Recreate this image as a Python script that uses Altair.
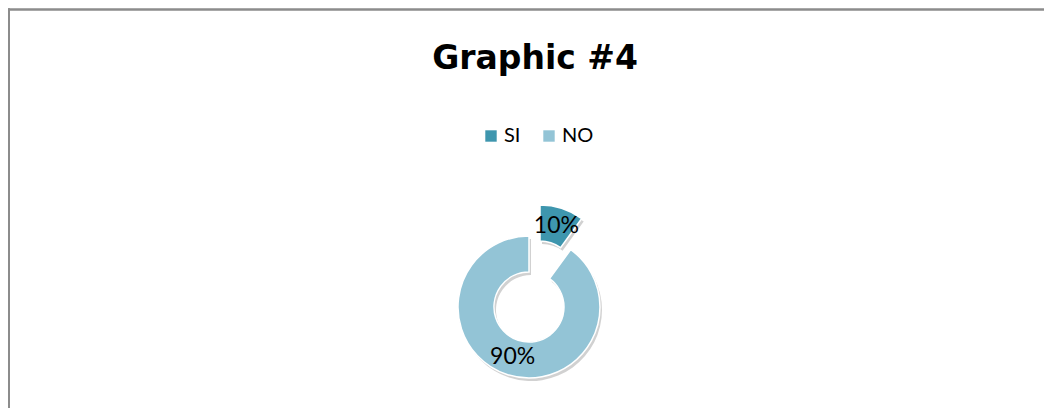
import altair as alt
import pandas as pd
import math

categories = ["SI", "NO"]
values = [10, 90]
order = [0, 1]
colors = ["#3E96AE", "#93C4D6"]

df = pd.DataFrame({"cat": categories, "value": values, "order": order})

FONT = "Lato"
TWO_PI = 2 * math.pi

base = alt.Chart(df).transform_window(
    cum="sum(value)", sort=[alt.SortField("order")], frame=[None, 0]
).transform_calculate(
    start="datum.cum - datum.value",
    end="datum.cum",
    mid="datum.cum - datum.value / 2",
    label="format(datum.value / 100, '.0%')",
)

theta_scale = alt.Scale(domain=[0, 100], range=[0, TWO_PI])
color_enc = alt.Color(
    "cat:N",
    scale=alt.Scale(domain=categories, range=colors),
    sort=categories,
    legend=alt.Legend(
        orient="none", legendX=473, legendY=118, direction="horizontal",
        title=None, symbolType="square", symbolSize=130, symbolStrokeWidth=0,
        labelFontSize=20, labelFont=FONT, labelColor="#000000",
        columnPadding=18, labelOffset=3, padding=0,
    ),
)

# center positions (plot coords)
NO_C = (521, 299)
SI_C = (532, 268)

def arcs(cat, center, shadow=False):
    b = base.transform_filter(alt.datum.cat == cat)
    if shadow:
        return b.mark_arc(innerRadius=35, outerRadius=71, color="#000000", opacity=0.18).encode(
            theta=alt.Theta("start:Q", scale=theta_scale), theta2="end:Q",
            x=alt.value(center[0] + 2), y=alt.value(center[1] + 3),
        )
    return b.mark_arc(innerRadius=35, outerRadius=71, stroke="#ffffff", strokeWidth=1.5).encode(
        theta=alt.Theta("start:Q", scale=theta_scale), theta2="end:Q",
        color=color_enc,
        x=alt.value(center[0]), y=alt.value(center[1]),
    )

def label(cat, center):
    b = base.transform_filter(alt.datum.cat == cat)
    return b.mark_text(font=FONT, fontSize=23, color="#000000", baseline="middle", align="center").encode(
        theta=alt.Theta("mid:Q", scale=theta_scale),
        radius=alt.value(53),
        text="label:N",
        x=alt.value(center[0]), y=alt.value(center[1]),
    )

border_top = alt.Chart(df).mark_rule(color="#8C8C8C", strokeWidth=2).encode(
    x=alt.value(0), x2=alt.value(1036), y=alt.value(1.5)
)
border_left = alt.Chart(df).mark_rule(color="#8C8C8C", strokeWidth=2).encode(
    x=alt.value(1), y=alt.value(0.5), y2=alt.value(400)
)

chart = alt.layer(
    border_top, border_left,
    arcs("NO", NO_C, shadow=True), arcs("SI", SI_C, shadow=True),
    arcs("NO", NO_C), arcs("SI", SI_C),
    label("NO", NO_C), label("SI", SI_C),
).properties(
    width=1036, height=400,
    autosize=alt.AutoSizeParams(type="none"),
    padding=0,
    title=alt.TitleParams(
        "Graphic #4", font="DejaVu Sans", fontSize=33, fontWeight="bold", color="#000000",
        anchor="middle", offset=0, dy=68, dx=9,
    ),
).configure_view(stroke=None).configure_scale(zero=True)

chart.save("out.html", embed_options={"renderer": "svg", "actions": False})
